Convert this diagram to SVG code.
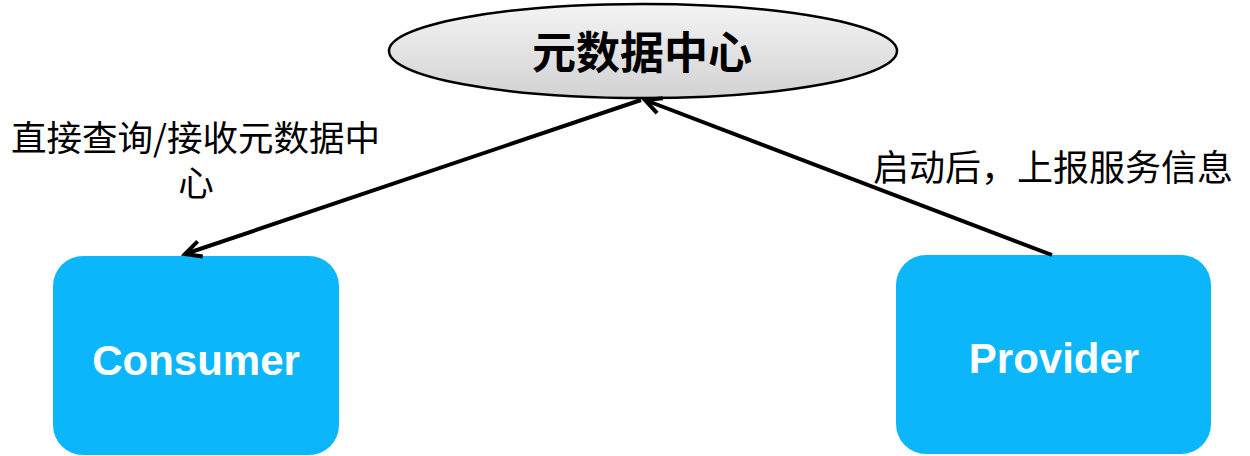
<svg xmlns="http://www.w3.org/2000/svg" width="1250" height="456" viewBox="0 0 1250 456">
  <style>
    .box { fill: #0cb6fb; }
    .boxlabel { font-family: "Liberation Sans", Arial, sans-serif; font-weight: bold; font-size: 42px; fill: #ffffff; text-anchor: middle; }
    .label { font-family: "Noto Sans CJK SC", "Noto Sans", sans-serif; font-size: 35.5px; fill: #000000; }
    .title { font-family: "Noto Sans CJK SC", "Noto Sans", sans-serif; font-weight: bold; font-size: 44px; fill: #000000; text-anchor: middle; }
    .conn { stroke: #000000; stroke-width: 4; fill: none; }
  </style>
  <defs>
    <linearGradient id="ellGrad" x1="0" y1="0" x2="0" y2="1">
      <stop offset="0" stop-color="#f4f4f4"/>
      <stop offset="1" stop-color="#d2d2d2"/>
    </linearGradient>
    <marker id="arrow" markerWidth="12" markerHeight="12" refX="10" refY="6" orient="auto" markerUnits="userSpaceOnUse" viewBox="0 0 12 12" overflow="visible">
      <path d="M-6,-2 L10,6 L-6,14" fill="none" stroke="#000000" stroke-width="4" stroke-linejoin="miter"/>
    </marker>
  </defs>

  <g id="metadata-center">
    <ellipse cx="643" cy="51" rx="254" ry="47" fill="url(#ellGrad)" stroke="#000000" stroke-width="2.5"/>
    <text class="title" x="642" y="69">元数据中心</text>
  </g>

  <g id="consumer">
    <rect class="box" x="53" y="256" width="286" height="199" rx="30" ry="30"/>
    <text class="boxlabel" x="196" y="375">Consumer</text>
  </g>

  <g id="provider">
    <rect class="box" x="896" y="255" width="315" height="199" rx="30" ry="30"/>
    <text class="boxlabel" x="1054" y="373">Provider</text>
  </g>

  <g id="connectors">
    <line class="conn" x1="1052" y1="255" x2="645" y2="100" marker-end="url(#arrow)"/>
    <line class="conn" x1="641" y1="100" x2="185" y2="254" marker-end="url(#arrow)"/>
  </g>

  <g id="labels">
    <text class="label"><tspan x="11" y="151">直接查询/接收元数据中</tspan><tspan x="196" y="196" text-anchor="middle">心</tspan></text>
    <text class="label" x="873" y="181" style="font-size:36px">启动后，上报服务信息</text>
  </g>
</svg>
